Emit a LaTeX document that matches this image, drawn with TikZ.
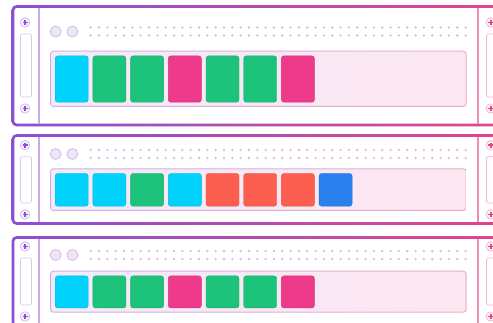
\documentclass[tikz,border=0pt]{standalone}
\usepackage{tikz}
\usetikzlibrary{positioning}

\definecolor{rackpurple}{HTML}{8A4FD3}
\definecolor{rackpink}{HTML}{E2468D}
\definecolor{trayfilll}{HTML}{F3EAFA}
\definecolor{trayfillr}{HTML}{FCE6F0}
\definecolor{traylinel}{HTML}{CBAEE6}
\definecolor{trayliner}{HTML}{EAA8C8}
\definecolor{dotlav}{HTML}{CFBFE6}
\definecolor{dotpink}{HTML}{EFB3CF}
\definecolor{holefill}{HTML}{EFE5F9}
\definecolor{holeline}{HTML}{CDB6EA}
\definecolor{divleft}{HTML}{C8AAEA}
\definecolor{divright}{HTML}{EE8CB8}
\definecolor{slotline}{HTML}{D8C8EE}
\definecolor{slotlinep}{HTML}{F2B8D2}
\definecolor{cyanblk}{HTML}{00D2FC}
\definecolor{greenblk}{HTML}{1DC37B}
\definecolor{pinkblk}{HTML}{EE3A8B}
\definecolor{redblk}{HTML}{FC5E50}
\definecolor{blueblk}{HTML}{2A81EE}

\tikzset{
  blk/.style={draw=#1!88!black,fill=#1,line width=0.4pt,rounded corners=2.5pt,
    anchor=north west,minimum width=33pt,inner sep=0pt},
  hole/.style={circle,draw=holeline,fill=holefill,line width=0.7pt,
    minimum size=11pt,inner sep=0pt},
  plusbtn/.style={circle,draw=#1!40,fill=#1!8,line width=0.7pt,
    minimum size=9.4pt,inner sep=0pt,
    path picture={\draw[#1,line width=1.7pt]
      (path picture bounding box.center) +(-2.5pt,0) -- +(2.5pt,0)
      (path picture bounding box.center) +(0,-2.5pt) -- +(0,2.5pt);}},
  slot/.style={draw=#1,fill=white,line width=0.7pt,rounded corners=1.5pt}
}

% #1 id, #2/#3 frame top/bottom, #4 header row, #5/#6 tray top/bottom,
% #7/#8 slot top/bottom, #9 list of block colours
\newcommand{\serverrack}[9]{%
  % frame
  \shade[left color=rackpurple,right color=rackpink,even odd rule]
    [rounded corners=5pt] (11.5,#2-1.4) rectangle (506.5,#3+1.4)
    [rounded corners=2.5pt] (14.3,#2+1.4) rectangle (503.7,#3-1.4);
  \draw[divleft,line width=1.3pt] (39,#2+1.4) -- (39,#3-1.4);
  \draw[divright,line width=1.3pt] (478,#2+1.4) -- (478,#3-1.4);
  % side panels
  \draw[slot=slotline] (20.5,#7) rectangle (31.5,#8);
  \node[plusbtn=rackpurple] (#1pt) at (25,#7-11.5) {};
  \node[plusbtn=rackpurple] (#1pb) at (25,#8+11.5) {};
  \draw[slot=slotlinep] (486.5,#7) rectangle (498,#8);
  \node[plusbtn=rackpink] (#1qt) at (490.7,#7-11.5) {};
  \node[plusbtn=rackpink] (#1qb) at (490.7,#8+11.5) {};
  % header
  \node[hole] (#1h1) at (55.7,#4) {};
  \node[hole,right=5pt of #1h1] (#1h2) {};
  \foreach \i in {0,...,45} {
    \pgfmathtruncatemacro\p{100-\i*100/45}
    \fill[dotlav!\p!dotpink] (90.7+\i*8.33,#4-4) circle (1.3pt)
      (90.7+\i*8.33,#4+4) circle (1.3pt);
  }
  % tray
  \shade[left color=trayfilll,right color=trayfillr,rounded corners=2.5pt]
    (51,#5+1) rectangle (465.7,#6-1);
  \shade[left color=traylinel,right color=trayliner,even odd rule]
    [rounded corners=3.5pt] (50,#5) rectangle (466.7,#6)
    [rounded corners=2.5pt] (51,#5+1) rectangle (465.7,#6-1);
  \pgfmathsetmacro\bh{#6-#5-10}
  \foreach \c [count=\k from 0] in {#9}
    \node[blk=\c,minimum height=\bh pt] (#1b\k) at (55+\k*37.7,#5+5) {};
}

\begin{document}
\begin{tikzpicture}[x=1pt,y=-1pt]
\path[use as bounding box,clip] (0,0) rectangle (493,323);
\fill[white] (0,0) rectangle (493,323);
\serverrack{a}{6.5}{125}{31.5}{50.7}{107}{34}{97}
  {cyanblk,greenblk,greenblk,pinkblk,greenblk,greenblk,pinkblk}
\serverrack{b}{135.5}{223.5}{154}{168.3}{211}{156.7}{203}
  {cyanblk,cyanblk,greenblk,cyanblk,redblk,redblk,redblk,blueblk}
\serverrack{c}{237.5}{326}{255}{270.7}{312.7}{258}{305}
  {cyanblk,greenblk,greenblk,pinkblk,greenblk,greenblk,pinkblk}
\end{tikzpicture}
\end{document}
